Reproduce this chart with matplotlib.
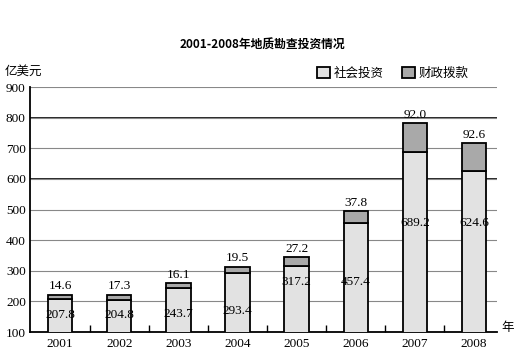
import matplotlib.pyplot as plt
import numpy as np

plt.rcParams['font.family'] = ['Noto Sans CJK SC', 'DejaVu Sans']

years = ['2001', '2002', '2003', '2004', '2005', '2006', '2007', '2008']
social = [207.8, 204.8, 243.7, 293.4, 317.2, 457.4, 689.2, 624.6]
fiscal = [14.6, 17.3, 16.1, 19.5, 27.2, 37.8, 92.0, 92.6]
yticks = [100, 200, 300, 400, 500, 600, 700, 800, 900]

# where the social numbers sit inside the bars (as in the original)
inner_label_y = [155, 155, 160, 170, 263, 263, 456, 456]

fig = plt.figure(figsize=(5.27, 3.57), dpi=100)
ax = fig.add_axes([0.057, 0.070, 0.886, 0.686])

x = np.arange(len(years))
w = 0.41
ax.bar(x, social, w, color='#e2e2e2', edgecolor='black', linewidth=1.3, zorder=3, label='社会投资')
ax.bar(x, fiscal, w, bottom=social, color='#a9a9a9', edgecolor='black', linewidth=1.3, zorder=3, label='财政拨款')

num_font = 'Liberation Serif'
for i in range(len(years)):
    ax.text(x[i], social[i] + fiscal[i] + 8, f'{fiscal[i]:.1f}', ha='center', va='bottom',
            fontsize=9.5, family=num_font, zorder=4)
    ax.text(x[i], inner_label_y[i], f'{social[i]:.1f}', ha='center', va='center',
            fontsize=9.5, family=num_font, zorder=4)

ax.set_ylim(100, 900)
ax.set_xlim(-0.51, 7.39)
ax.set_yticks(yticks)
ax.set_yticklabels([str(v) for v in yticks], family=num_font, fontsize=9.5)
ax.set_xticks(x)
ax.set_xticklabels(years, family=num_font, fontsize=9.5)
ax.set_xticks(np.arange(0.5, 7.5, 1), minor=True)
ax.tick_params(axis='x', which='major', length=0, pad=4)
ax.tick_params(axis='x', which='minor', direction='in', length=5, width=1)
ax.tick_params(axis='y', length=0, pad=3)

ax.grid(axis='y', color='#888888', linewidth=0.8, zorder=0)
for v in [600, 800]:
    ax.axhline(v, color='black', linewidth=1.2, zorder=1)
ax.axhline(900, color='black', linewidth=1.2, zorder=1)

ax.spines['top'].set_visible(False)
ax.spines['right'].set_visible(False)
ax.spines['left'].set_linewidth(1.3)
ax.spines['bottom'].set_linewidth(1.3)

fig.text(0.497, 0.874, '2001-2008年地质勘查投资情况', ha='center', va='center', fontsize=8.5, fontweight='bold')
fig.text(0.008, 0.80, '亿美元', ha='left', va='center', fontsize=9)
fig.text(0.952, 0.082, '年', ha='left', va='center', fontsize=9)

ax.legend(loc='lower right', bbox_to_anchor=(0.955, 1.0), ncol=2, frameon=False, fontsize=9,
          handlelength=1.0, handleheight=1.0, columnspacing=1.5, handletextpad=0.3, borderaxespad=0.2)

fig.savefig('out.png', dpi=100)
